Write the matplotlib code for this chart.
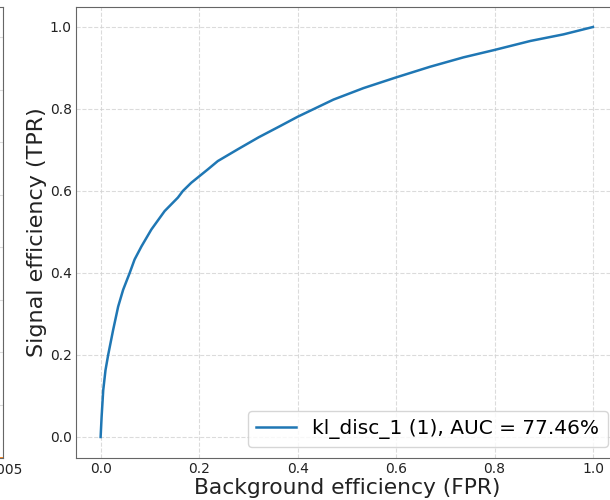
import numpy as np
import matplotlib
matplotlib.use("Agg")
from matplotlib import pyplot as plt

# ROC curve points
fpr = [0.0, 0.002, 0.0053, 0.0099, 0.0153, 0.0254, 0.0356, 0.0457, 0.059,
       0.069, 0.083, 0.103, 0.130, 0.157, 0.167, 0.184, 0.218, 0.238, 0.279,
       0.321, 0.364, 0.40, 0.473, 0.534, 0.60, 0.669, 0.737, 0.80, 0.873,
       0.940, 1.0]
tpr = [0.0, 0.049, 0.114, 0.163, 0.200, 0.261, 0.318, 0.359, 0.400,
       0.433, 0.465, 0.506, 0.551, 0.584, 0.600, 0.620, 0.653, 0.673, 0.702,
       0.731, 0.758, 0.781, 0.823, 0.851, 0.877, 0.903, 0.926, 0.944, 0.966,
       0.982, 1.0]
label = "kl_disc_1 (1), AUC = 77.46%"

# neighbouring panel that is mostly cut off on the left
left_x = [0.0, 0.005]
left_y = [0.0, 0.0]

fig = plt.figure(figsize=(6.1, 5), dpi=100)

spine_col = "#666666"
text_col = "#222222"

# left (cropped) panel
axl = fig.add_axes([-0.5, 0.085, 0.5 + 3 / 610, 0.902])
axl.plot(left_x, left_y, color="tab:orange", lw=2)
axl.set_xlim(-0.1, 0.005)
axl.set_ylim(0, 8.59)
axl.set_xticks([0.005])
axl.set_xticklabels(["0.005"])
axl.set_yticks(np.arange(0, 9))
axl.tick_params(labelsize=10, length=0, pad=4, colors=text_col)
axl.grid(True, linestyle="--", color="lightgray", alpha=0.8)
for s in axl.spines.values():
    s.set_color(spine_col)

# main ROC panel
ax = fig.add_axes([76 / 610, 0.085, 541.6 / 610, 0.902])
ax.plot(fpr, tpr, color="tab:blue", lw=1.8, label=label)
ax.set_xlim(-0.05, 1.05)
ax.set_ylim(-0.05, 1.05)
ax.set_xticks([0.0, 0.2, 0.4, 0.6, 0.8, 1.0])
ax.set_yticks([0.0, 0.2, 0.4, 0.6, 0.8, 1.0])
ax.tick_params(labelsize=10, length=0, pad=3, colors=text_col)
ax.grid(True, linestyle="--", color="lightgray", alpha=0.8)
for s in ax.spines.values():
    s.set_color(spine_col)
ax.set_xlabel("Background efficiency (FPR)", fontsize=15.7, labelpad=2, color=text_col)
ax.set_ylabel("Signal efficiency (TPR)", fontsize=16, labelpad=2, color=text_col)
ax.legend(loc="lower right", fontsize=14.5)

fig.savefig("out.png", dpi=100)
